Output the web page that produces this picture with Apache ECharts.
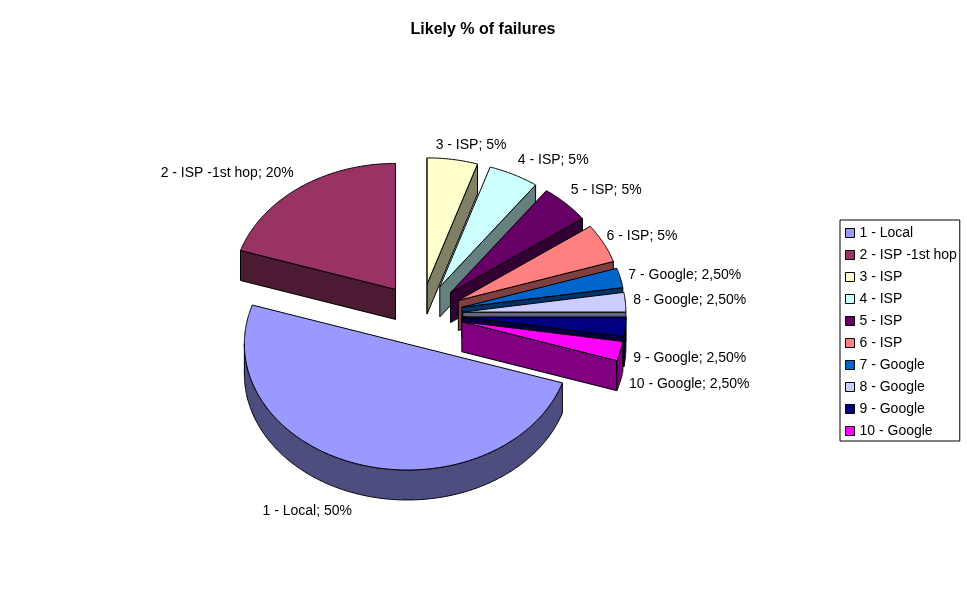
<!DOCTYPE html>
<html>
<head>
<meta charset="utf-8">
<style>html,body{margin:0;padding:0;background:#fff}#c{width:967px;height:609px}</style>
<script src="https://cdn.jsdelivr.net/npm/echarts@6/dist/echarts.min.js"></script>
</head>
<body>
<div id="c"></div>
<script>
var categories = ['1 - Local','2 - ISP -1st hop','3 - ISP','4 - ISP','5 - ISP','6 - ISP','7 - Google','8 - Google','9 - Google','10 - Google'];
var percentLabels = ['50%','20%','5%','5%','5%','5%','2,50%','2,50%','2,50%','2,50%'];
var values = [50,20,5,5,5,5,2.5,2.5,2.5,2.5];
var colors = ['#9999ff','#993366','#ffffcc','#ccffff','#660066','#ff8080','#0066cc','#ccccff','#000080','#ff00ff'];

// layout of the tilted, exploded pie
var geo = {cx:420.5, cy:314.5, rx:163, ry:126, depth:30, exX:42.5, exY:31, startDeg:18};
var drawOrder = [9,0,1,2,3,4,5,6,7,8]; // z per slice: slice 1 in front
var labelAlign = ['right','right','left','left','left','left','left','left','left','left'];
var labelNudge = [[-5,17],[-6,-14],[-17,-14],[4,-14],[5,-13],[3,-7],[8,-2.5],[8,-2],[8,1],[8.6,3]];

var total = values.reduce(function(a,b){return a+b;},0);
var RAD = Math.PI/180;
function darken(hex){
  var n = parseInt(hex.slice(1),16);
  return 'rgb('+Math.round((n>>16&255)/2)+','+Math.round((n>>8&255)/2)+','+Math.round((n&255)/2)+')';
}
function makeRender(i){
  return function(params, api){
    var before = 0;
    for (var k=0;k<i;k++) before += values[k];
    var v = api.value(0);
    var t0 = geo.startDeg + before/total*360, t1 = t0 + v/total*360, mid = (t0+t1)/2;
    var ax = geo.cx + geo.exX*Math.cos(mid*RAD), ay = geo.cy + geo.exY*Math.sin(mid*RAD);
    function rim(t){ return [ax+geo.rx*Math.cos(t*RAD), ay+geo.ry*Math.sin(t*RAD)]; }
    function down(p){ return [p[0], p[1]+geo.depth]; }
    var apex = [ax,ay], dark = darken(colors[i]), children = [];
    function poly(points, fill){
      children.push({type:'polygon', shape:{points:points}, style:{fill:fill, stroke:'#000', lineWidth:1, lineJoin:'miter'}});
    }
    if (Math.sin((t0-90)*RAD) > 0) { var a=rim(t0); poly([apex,a,down(a),down(apex)], dark); }
    if (Math.sin((t1+90)*RAD) > 0) { var b=rim(t1); poly([apex,b,down(b),down(apex)], dark); }
    var arc = [], top = [apex], t, n = Math.max(2, Math.ceil((t1-t0)*2));
    for (var j=0;j<=n;j++){
      t = t0 + (t1-t0)*j/n;
      var p = rim(t);
      top.push(p);
      if (Math.sin(t*RAD) >= -1e-9) arc.push(p);
    }
    if (arc.length > 1) poly(arc.concat(arc.slice().reverse().map(down)), dark);
    poly(top, colors[i]);
    var lp = rim(mid);
    if (Math.sin(mid*RAD) > 0) lp = down(lp);
    children.push({type:'text', style:{
      text: categories[i]+'; '+percentLabels[i],
      x: lp[0]+labelNudge[i][0], y: lp[1]+labelNudge[i][1],
      align: labelAlign[i], verticalAlign:'middle',
      font: '14px "Liberation Sans", Arial, sans-serif', fill:'#000'
    }});
    return {type:'group', children:children};
  };
}
var series = categories.map(function(name,i){
  return {
    type:'custom', name:name, coordinateSystem:'none', silent:true,
    z: 2+drawOrder[i],
    itemStyle:{color:colors[i]},
    data:[[values[i]]],
    renderItem: makeRender(i)
  };
});
var chart = echarts.init(document.getElementById('c'), null, {renderer:'canvas'});
chart.setOption({
  animation:false,
  backgroundColor:'#fff',
  title:{text:'Likely % of failures', left:483, top:21, textAlign:'center',
    textStyle:{fontFamily:'"Liberation Sans", Arial, sans-serif', fontSize:16, fontWeight:'bold', color:'#000', lineHeight:18}, padding:0},
  legend:{
    orient:'vertical', left:840, top:220, padding:[6,3,3,5],
    itemWidth:9, itemHeight:9, itemGap:8, icon:'rect', selectedMode:false,
    borderColor:'#000', borderWidth:1, backgroundColor:'#fff',
    itemStyle:{borderColor:'#000', borderWidth:1},
    textStyle:{fontFamily:'"Liberation Sans", Arial, sans-serif', fontSize:14, color:'#000', lineHeight:14},
    data:categories
  },
  series:series
});
</script>
</body>
</html>
